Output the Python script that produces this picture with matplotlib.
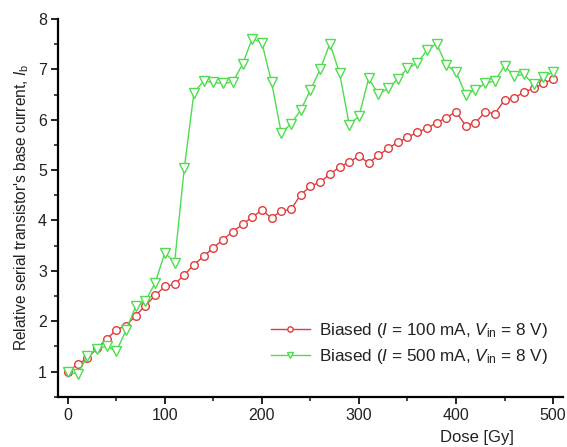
import matplotlib
matplotlib.use("Agg")
import matplotlib.pyplot as plt
from matplotlib.ticker import MultipleLocator

plt.rcParams['font.family'] = ['Liberation Sans', 'DejaVu Sans']
plt.rcParams['mathtext.fontset'] = 'custom'
plt.rcParams['mathtext.rm'] = 'Liberation Sans'
plt.rcParams['mathtext.it'] = 'Liberation Sans:italic'

dose = list(range(0, 510, 10))
biased_100mA = [1.00, 1.14, 1.26, 1.46, 1.64, 1.83, 1.91, 2.11, 2.31, 2.51,
                2.69, 2.73, 2.92, 3.12, 3.29, 3.46, 3.62, 3.78, 3.92, 4.07,
                4.20, 4.05, 4.19, 4.22, 4.51, 4.68, 4.76, 4.92, 5.06, 5.16,
                5.28, 5.14, 5.29, 5.43, 5.55, 5.65, 5.75, 5.83, 5.94, 6.04,
                6.16, 5.88, 5.94, 6.15, 6.12, 6.39, 6.43, 6.55, 6.62, 6.72,
                6.81]
biased_500mA = [0.99, 0.95, 1.30, 1.45, 1.50, 1.40, 1.82, 2.30, 2.40, 2.76,
                3.36, 3.16, 5.04, 6.54, 6.77, 6.74, 6.72, 6.75, 7.10, 7.61,
                7.53, 6.74, 5.73, 5.92, 6.19, 6.59, 7.00, 7.51, 6.93, 5.90,
                6.07, 6.82, 6.51, 6.62, 6.81, 7.02, 7.12, 7.38, 7.51, 7.08,
                6.95, 6.50, 6.59, 6.72, 6.77, 7.07, 6.87, 6.90, 6.70, 6.85,
                6.95]
labels = [r"Biased ($I$ = 100 mA, $V_{\mathrm{in}}$ = 8 V)",
          r"Biased ($I$ = 500 mA, $V_{\mathrm{in}}$ = 8 V)"]

red = '#e03c3c'
green = '#4ddd4d'

fig = plt.figure(figsize=(5.67, 4.47), dpi=100)
ax = fig.add_axes([0.1025, 0.1125, 0.89, 0.845])

ax.plot(dose, biased_100mA, color=red, lw=1.0, marker='o', ms=5.5,
        mfc='white', mec=red, mew=1.0, label=labels[0])
ax.plot(dose, biased_500mA, color=green, lw=1.0, marker='v', ms=7,
        mfc='white', mec=green, mew=1.0, label=labels[1])

ax.set_xlim(-10, 510)
ax.set_ylim(0.5, 8)
ax.xaxis.set_major_locator(MultipleLocator(100))
ax.xaxis.set_minor_locator(MultipleLocator(50))
ax.yaxis.set_major_locator(MultipleLocator(1))
ax.yaxis.set_minor_locator(MultipleLocator(0.5))

for s in ['top', 'right']:
    ax.spines[s].set_visible(False)
for s in ['left', 'bottom']:
    ax.spines[s].set_linewidth(1.6)
ax.tick_params(which='major', direction='out', length=5, width=1.4,
               labelsize=11.5, colors='#222222', pad=3)
ax.tick_params(which='minor', direction='out', length=3, width=1.2,
               colors='#222222')

ax.set_ylabel(r"Relative serial transistor's base current, $I_{\mathrm{b}}$",
              fontsize=11.2, color='#222222', labelpad=5)
ax.set_xlabel("Dose [Gy]", fontsize=12, color='#222222', va='bottom')
ax.xaxis.set_label_coords(0.83, -0.1285)

leg = ax.legend(loc='lower right', bbox_to_anchor=(1.0, 0.04), frameon=False,
                fontsize=12.3, handlelength=2.3, handletextpad=0.5,
                labelspacing=0.45, markerscale=0.7)
for t in leg.get_texts():
    t.set_color('#222222')

fig.savefig('out.png', dpi=100)
